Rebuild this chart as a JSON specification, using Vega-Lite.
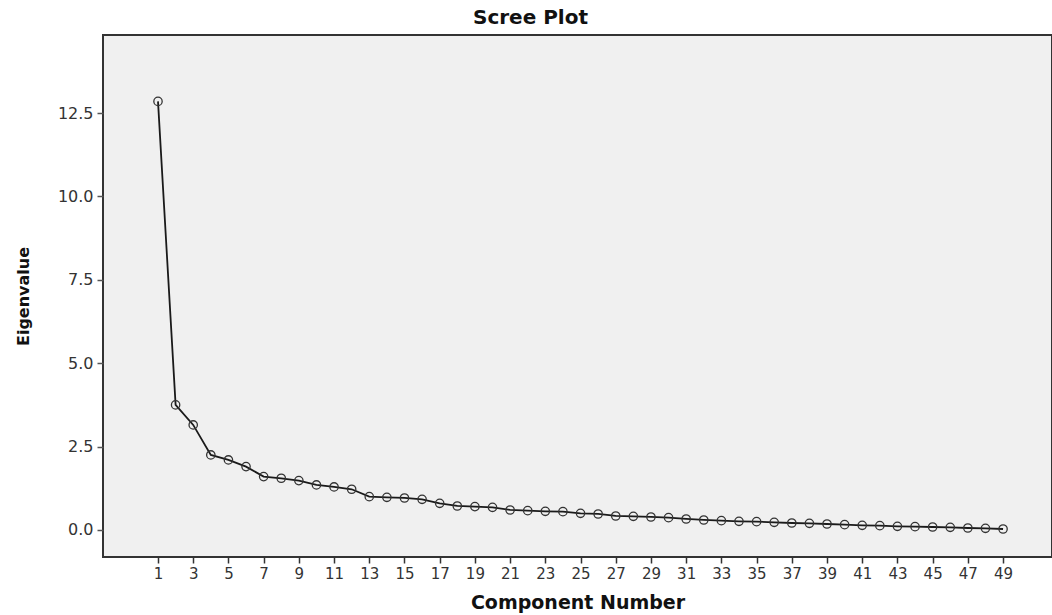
{
  "$schema": "https://vega.github.io/schema/vega-lite/v6.json",
  "autosize": "none",
  "width": 949,
  "height": 522,
  "padding": {"left": 103, "top": 35, "right": 0, "bottom": 58},
  "background": "#ffffff",
  "config": {
    "font": "DejaVu Sans",
    "view": {"fill": "#f0f0f0", "stroke": "#333333", "strokeWidth": 2}
  },
  "title": {
    "text": "Scree Plot",
    "font": "DejaVu Sans",
    "fontSize": 20,
    "fontWeight": "bold",
    "color": "#111111",
    "anchor": "middle",
    "frame": "group",
    "dx": -47,
    "offset": 7
  },
  "data": {
    "values": [
      {"component": 1, "eigenvalue": 12.85},
      {"component": 2, "eigenvalue": 3.75},
      {"component": 3, "eigenvalue": 3.15},
      {"component": 4, "eigenvalue": 2.25},
      {"component": 5, "eigenvalue": 2.1},
      {"component": 6, "eigenvalue": 1.9},
      {"component": 7, "eigenvalue": 1.6},
      {"component": 8, "eigenvalue": 1.55},
      {"component": 9, "eigenvalue": 1.48},
      {"component": 10, "eigenvalue": 1.35},
      {"component": 11, "eigenvalue": 1.29},
      {"component": 12, "eigenvalue": 1.22},
      {"component": 13, "eigenvalue": 1.0},
      {"component": 14, "eigenvalue": 0.98},
      {"component": 15, "eigenvalue": 0.96},
      {"component": 16, "eigenvalue": 0.92},
      {"component": 17, "eigenvalue": 0.8},
      {"component": 18, "eigenvalue": 0.72},
      {"component": 19, "eigenvalue": 0.7},
      {"component": 20, "eigenvalue": 0.68},
      {"component": 21, "eigenvalue": 0.6},
      {"component": 22, "eigenvalue": 0.58},
      {"component": 23, "eigenvalue": 0.56},
      {"component": 24, "eigenvalue": 0.55},
      {"component": 25, "eigenvalue": 0.5},
      {"component": 26, "eigenvalue": 0.48},
      {"component": 27, "eigenvalue": 0.42},
      {"component": 28, "eigenvalue": 0.41},
      {"component": 29, "eigenvalue": 0.39},
      {"component": 30, "eigenvalue": 0.37},
      {"component": 31, "eigenvalue": 0.33},
      {"component": 32, "eigenvalue": 0.3},
      {"component": 33, "eigenvalue": 0.28},
      {"component": 34, "eigenvalue": 0.26},
      {"component": 35, "eigenvalue": 0.25},
      {"component": 36, "eigenvalue": 0.23},
      {"component": 37, "eigenvalue": 0.21},
      {"component": 38, "eigenvalue": 0.2},
      {"component": 39, "eigenvalue": 0.18},
      {"component": 40, "eigenvalue": 0.16},
      {"component": 41, "eigenvalue": 0.14},
      {"component": 42, "eigenvalue": 0.13},
      {"component": 43, "eigenvalue": 0.11},
      {"component": 44, "eigenvalue": 0.1},
      {"component": 45, "eigenvalue": 0.09},
      {"component": 46, "eigenvalue": 0.08},
      {"component": 47, "eigenvalue": 0.06},
      {"component": 48, "eigenvalue": 0.05},
      {"component": 49, "eigenvalue": 0.03}
    ]
  },
  "encoding": {
    "x": {
      "field": "component",
      "type": "quantitative",
      "scale": {"domain": [-2.124, 51.78], "nice": false, "zero": false},
      "axis": {
        "title": "Component Number",
        "titleFont": "DejaVu Sans",
        "titleFontSize": 19,
        "titleFontWeight": "bold",
        "titleColor": "#111111",
        "titlePadding": 12,
        "values": [1,3,5,7,9,11,13,15,17,19,21,23,25,27,29,31,33,35,37,39,41,43,45,47,49],
        "grid": false,
        "domain": false,
        "tickColor": "#333333",
        "tickSize": 6,
        "tickWidth": 1.5,
        "labelFontSize": 15,
        "labelColor": "#333333",
        "labelPadding": 3
      }
    },
    "y": {
      "field": "eigenvalue",
      "type": "quantitative",
      "scale": {"domain": [-0.81, 14.84], "nice": false, "zero": false},
      "axis": {
        "title": "Eigenvalue",
        "titleFont": "DejaVu Sans",
        "titleFontSize": 16,
        "titleFontWeight": "bold",
        "titleColor": "#111111",
        "titlePadding": 26,
        "values": [0, 2.5, 5, 7.5, 10, 12.5],
        "format": ".1f",
        "grid": false,
        "domain": false,
        "tickColor": "#555555",
        "tickSize": 6,
        "tickWidth": 1.5,
        "labelFontSize": 16,
        "labelColor": "#333333",
        "labelPadding": 4
      }
    }
  },
  "layer": [
    {"mark": {"type": "line", "color": "#1a1a1a", "strokeWidth": 1.8}},
    {"mark": {"type": "point", "shape": "circle", "filled": false, "size": 70, "stroke": "#333333", "strokeWidth": 1.3, "opacity": 1}}
  ]
}
